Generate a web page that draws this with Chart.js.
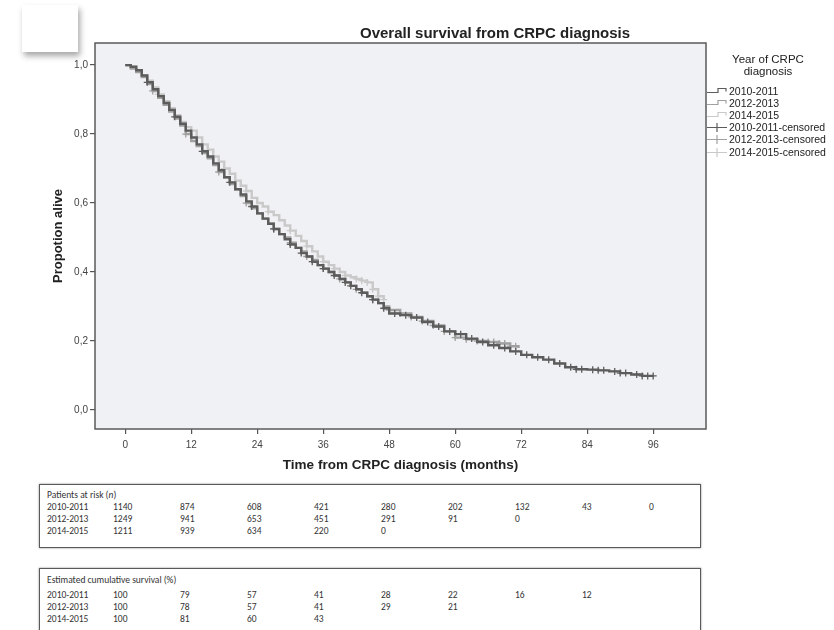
<!DOCTYPE html>
<html>
<head>
<meta charset="utf-8">
<script src="https://cdn.jsdelivr.net/npm/chart.js@4/dist/chart.umd.min.js"></script>
<style>
  html, body { margin: 0; padding: 0; background: #fff; }
  body { width: 834px; height: 630px; position: relative; overflow: hidden; font-family: 'Liberation Sans', Arial, sans-serif; }
  #chartWrap { position: absolute; left: 0; top: 0; width: 834px; height: 480px; }
  #whiteBox { position: absolute; left: 22px; top: 5px; width: 56px; height: 47px; background: #fff; box-shadow: 2px 4px 6px rgba(0,0,0,0.35); }
  #title { position: absolute; left: 360px; top: 24px; font: bold 15px 'Liberation Sans', Arial, sans-serif; color: #222; white-space: nowrap; }
  #legend { position: absolute; left: 704px; top: 0; width: 130px; height: 170px; font: 10.5px 'Liberation Sans', Arial, sans-serif; color: #222; }
  #legend .lt { position: absolute; left: 0; width: 128px; text-align: center; font-size: 11.5px; line-height: 12px; }
  #legend .row { position: absolute; left: 0; height: 12px; line-height: 12px; white-space: nowrap; }
  #legend svg { position: absolute; left: 2px; top: 0; }
  #legend .row span { position: absolute; left: 25px; top: 0; }
  .tbox { position: absolute; left: 39px; width: 660px; border: 1.5px solid #5a5a5a; box-shadow: 0 0 2px rgba(0,0,0,0.45); background: #fff; font-family: Carlito, Lato, 'Open Sans', sans-serif; font-size: 9.5px; color: #333; }
  .tbox div { position: absolute; white-space: nowrap; line-height: 11px; }
</style>
</head>
<body>
<div id="chartWrap"><canvas id="c" width="834" height="480"></canvas></div>
<div id="whiteBox"></div>
<div id="title">Overall survival from CRPC diagnosis</div>
<div id="legend"></div>
<div id="tab1" class="tbox" style="top:484px;height:62px;"></div>
<div id="tab2" class="tbox" style="top:568px;height:80px;"></div>
<script>
// ---------------- DATA ----------------
const seriesNames = ['2010-2011', '2012-2013', '2014-2015'];
const legendTitle = ['Year of CRPC', 'diagnosis'];
const xTicks = [0, 12, 24, 36, 48, 60, 72, 84, 96];
const yTicks = [0, 0.2, 0.4, 0.6, 0.8, 1.0];

// Kaplan-Meier estimates (months, proportion alive)
const times1011 = [0,1,2,3,4,5,6,7,8,9,10,11,12,13,14,15,16,17,18,19,20,21,22,23,24,25,26,27,28,29,30,31,32,33,34,35,36,37,38,39,40,41,42,43,44,45,46,47,48,50,52,54,56,58,60,62,64,66,68,70,72,74,76,78,80,82,84,86,88,90,92,94,96];
const surv1011  = [1.0,0.995,0.985,0.97,0.95,0.93,0.91,0.89,0.87,0.85,0.83,0.81,0.79,0.77,0.75,0.735,0.715,0.695,0.675,0.66,0.64,0.625,0.605,0.59,0.57,0.555,0.54,0.525,0.51,0.495,0.48,0.47,0.455,0.445,0.43,0.42,0.41,0.40,0.39,0.38,0.37,0.36,0.35,0.34,0.33,0.32,0.31,0.295,0.28,0.275,0.268,0.255,0.242,0.228,0.22,0.207,0.197,0.188,0.18,0.17,0.16,0.153,0.146,0.135,0.124,0.118,0.117,0.115,0.112,0.107,0.103,0.099,0.099];

const times1213 = [0,1,2,3,4,5,6,7,8,9,10,11,12,13,14,15,16,17,18,19,20,21,22,23,24,25,26,27,28,29,30,31,32,33,34,35,36,37,38,39,40,41,42,43,44,45,46,47,48,50,52,54,56,58,60,62,64,66,68,70,71.5];
const surv1213  = [1.0,0.99,0.98,0.965,0.945,0.925,0.905,0.885,0.865,0.845,0.825,0.80,0.78,0.765,0.745,0.73,0.71,0.69,0.675,0.655,0.64,0.62,0.60,0.585,0.57,0.555,0.54,0.525,0.51,0.50,0.485,0.47,0.46,0.445,0.435,0.42,0.41,0.40,0.39,0.38,0.37,0.36,0.35,0.34,0.33,0.32,0.31,0.30,0.29,0.28,0.27,0.258,0.245,0.228,0.21,0.205,0.20,0.197,0.193,0.185,0.18];

const times1415 = [0,1,2,3,4,5,6,7,8,9,10,11,12,13,14,15,16,17,18,19,20,21,22,23,24,25,26,27,28,29,30,31,32,33,34,35,36,37,38,39,40,41,42,43,44,45,46,47];
const surv1415  = [1.0,0.995,0.985,0.97,0.955,0.935,0.915,0.895,0.875,0.855,0.835,0.82,0.81,0.79,0.77,0.755,0.735,0.72,0.70,0.685,0.665,0.65,0.635,0.615,0.60,0.59,0.575,0.565,0.55,0.535,0.52,0.505,0.49,0.475,0.46,0.445,0.43,0.42,0.41,0.40,0.39,0.385,0.38,0.375,0.37,0.35,0.33,0.32];

// censoring times (months)
const cens1011 = [4,9,14,19,23,27,30,32,34,36,38,40,41,43,45,47,49,51,53,55,57,59,61,63,65,67,69,71,73,75,77,79,81,82,83,85,86,87,89,90,91,93,94,95,96];
const cens1213 = [5,11,17,22,27,30,33,36,39,42,45,48,50,52,54,56,58,60,62,64,66,67,68,69,70,71];
const cens1415 = [6,12,18,22,26,30,33,36,38,40,42,43,44,45,46,47];

// risk table
const riskTimes = [0, 12, 24, 36, 48, 60, 72, 84, 96];
const atRisk1011 = [1140, 874, 608, 421, 280, 202, 132, 43, 0];
const atRisk1213 = [1249, 941, 653, 451, 291, 91, 0];
const atRisk1415 = [1211, 939, 634, 220, 0];
const cumSurv1011 = [100, 79, 57, 41, 28, 22, 16, 12];
const cumSurv1213 = [100, 78, 57, 41, 29, 21];
const cumSurv1415 = [100, 81, 60, 43];

// ---------------- STYLE ----------------
const lineColors = ['#5c5c5c', '#a0a0a0', '#c9c9c9'];
const FONT = "'Liberation Sans', Arial, sans-serif";

function stepValue(times, surv, t) {
  let s = surv[0];
  for (let i = 0; i < times.length; i++) if (times[i] <= t) s = surv[i];
  return s;
}
const curveT = [times1011, times1213, times1415];
const curveS = [surv1011, surv1213, surv1415];
const censT = [cens1011, cens1213, cens1415];

const datasets = [];
for (let k = 0; k < 3; k++) {
  datasets.push({
    label: seriesNames[k],
    data: curveT[k].map((t, i) => ({ x: t, y: curveS[k][i] })),
    borderColor: lineColors[k], borderWidth: 2.4, stepped: true,
    pointRadius: 0, fill: false, order: k * 2 + 1
  });
}
for (let k = 0; k < 3; k++) {
  datasets.push({
    label: seriesNames[k] + '-censored',
    data: censT[k].map(t => ({ x: t, y: stepValue(curveT[k], curveS[k], t) })),
    showLine: false, pointStyle: 'cross', pointRadius: 3.5, pointBorderWidth: 1.3,
    pointBorderColor: lineColors[k], pointBackgroundColor: lineColors[k], order: k * 2
  });
}

const boxPlugin = {
  id: 'box',
  beforeDraw(chart) {
    const a = chart.chartArea, ctx = chart.ctx;
    ctx.save(); ctx.fillStyle = '#f0f1f4';
    ctx.fillRect(a.left, a.top, a.right - a.left, a.bottom - a.top);
    ctx.restore();
  },
  afterDraw(chart) {
    const a = chart.chartArea, ctx = chart.ctx;
    ctx.save(); ctx.strokeStyle = '#5a5a5a'; ctx.lineWidth = 1.5;
    ctx.strokeRect(a.left, a.top, a.right - a.left, a.bottom - a.top);
    ctx.restore();
  }
};

new Chart(document.getElementById('c'), {
  type: 'line',
  data: { datasets },
  options: {
    responsive: false, animation: false, devicePixelRatio: 1,
    layout: { padding: { left: 0, top: 43, right: 128, bottom: 0 } },
    plugins: { legend: { display: false }, tooltip: { enabled: false }, title: { display: false } },
    scales: {
      x: {
        type: 'linear', min: -5.5, max: 105.6,
        afterBuildTicks: s => { s.ticks = xTicks.map(v => ({ value: v })); },
        afterFit: s => { s.height = 51; },
        grid: { drawOnChartArea: false, drawTicks: true, tickLength: 5, color: '#555', lineWidth: 1.2 },
        border: { display: false },
        ticks: { font: { family: FONT, size: 10 }, color: '#444', padding: 5, maxRotation: 0, callback: v => String(v) },
        title: { display: true, text: 'Time from CRPC diagnosis (months)', font: { family: FONT, size: 13.5, weight: 'bold' }, color: '#222', padding: { top: 0, bottom: 7 } }
      },
      y: {
        type: 'linear', min: -0.055, max: 1.064,
        afterBuildTicks: s => { s.ticks = yTicks.map(v => ({ value: v })); },
        afterFit: s => { s.width = 95; },
        grid: { drawOnChartArea: false, drawTicks: true, tickLength: 5, color: '#555', lineWidth: 1.2 },
        border: { display: false },
        ticks: { font: { family: FONT, size: 10 }, color: '#444', padding: 2, callback: v => v.toFixed(1).replace('.', ',') },
        title: { display: true, text: 'Propotion alive', font: { family: FONT, size: 13, weight: 'bold' }, color: '#222', padding: { top: 51, bottom: 0 } }
      }
    }
  },
  plugins: [boxPlugin]
});

// ---------------- LEGEND (HTML) ----------------
const lg = document.getElementById('legend');
legendTitle.forEach((t, i) => {
  const d = document.createElement('div'); d.className = 'lt'; d.textContent = t;
  d.style.top = (53 + i * 12) + 'px'; lg.appendChild(d);
});
const legendItems = [];
seriesNames.forEach((n, k) => legendItems.push({ text: n, color: lineColors[k], cens: false }));
seriesNames.forEach((n, k) => legendItems.push({ text: n + '-censored', color: lineColors[k], cens: true }));
legendItems.forEach((it, i) => {
  const r = document.createElement('div'); r.className = 'row';
  r.style.top = (84.5 + i * 12.2) + 'px';
  const sym = it.cens
    ? `<svg width="22" height="12"><path d="M1 6.5 H21 M11 2 V11" stroke="${it.color}" stroke-width="1.2" fill="none"/></svg>`
    : `<svg width="22" height="12"><path d="M1 7.5 H12 V3.5 H20 V6.5" stroke="${it.color}" stroke-width="1.2" fill="none"/></svg>`;
  r.innerHTML = sym + '<span></span>';
  r.querySelector('span').textContent = it.text;
  lg.appendChild(r);
});

// ---------------- TABLES (HTML) ----------------
function buildTable(el, headerHTML, rows, rowY) {
  const h = document.createElement('div');
  h.style.left = '7px'; h.style.top = rowY[0] + 'px';
  h.innerHTML = headerHTML; el.appendChild(h);
  rows.forEach((vals, r) => {
    const lab = document.createElement('div');
    lab.style.left = '7px'; lab.style.top = rowY[r + 1] + 'px';
    lab.textContent = seriesNames[r]; el.appendChild(lab);
    vals.forEach((v, c) => {
      const d = document.createElement('div');
      d.style.left = (73 + c * 67) + 'px'; d.style.top = rowY[r + 1] + 'px';
      d.textContent = String(v); el.appendChild(d);
    });
  });
}
buildTable(document.getElementById('tab1'), 'Patients at risk (<i>n</i>)',
  [atRisk1011, atRisk1213, atRisk1415], [5, 17, 29, 41]);
buildTable(document.getElementById('tab2'), 'Estimated cumulative survival (%)',
  [cumSurv1011, cumSurv1213, cumSurv1415], [6, 21, 33, 45]);
</script>
</body>
</html>
